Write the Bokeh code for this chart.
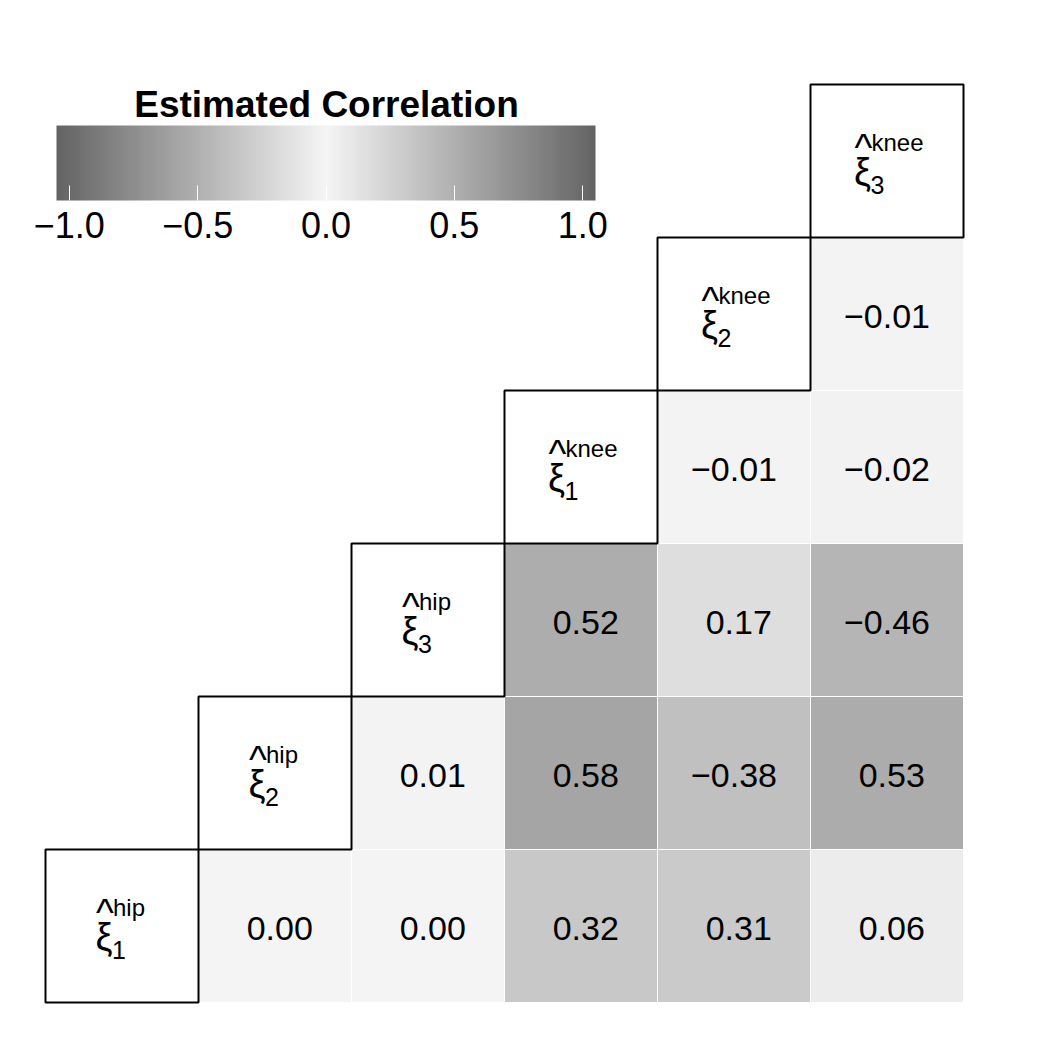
import numpy as np
from bokeh.plotting import figure
from bokeh.models import (ColumnDataSource, LinearColorMapper, ColorBar, FixedTicker,
                          Label, Range1d, CustomJSTickFormatter)
from bokeh.transform import transform
from bokeh.core.properties import value
from bokeh.embed import file_html
from bokeh.resources import INLINE

# ---------------- data ----------------
variables = ["hip", "hip", "hip", "knee", "knee", "knee"]
indices = ["1", "2", "3", "1", "2", "3"]
row_idx = [0, 0, 0, 0, 0, 1, 1, 1, 1, 2, 2, 2, 3, 3, 4]
col_idx = [1, 2, 3, 4, 5, 2, 3, 4, 5, 3, 4, 5, 4, 5, 5]
corr = [0.00, 0.00, 0.32, 0.31, 0.06,
        0.01, 0.58, -0.38, 0.53,
        0.52, 0.17, -0.46,
        -0.01, -0.02,
        -0.01]
legend_ticks = [-1.0, -0.5, 0.0, 0.5, 1.0]
legend_title = "Estimated Correlation"
legend_low, legend_high = -1.05, 1.05

FONT = "Liberation Sans"

# ---------------- colours ----------------
N = 256
vals = np.linspace(legend_low, legend_high, N)
grey = np.clip(np.round(245 - 138 * np.abs(vals)), 0, 255).astype(int)
palette = ["#%02x%02x%02x" % (g, g, g) for g in grey]
mapper = LinearColorMapper(palette=palette, low=legend_low, high=legend_high)

# ---------------- figure ----------------
CELL = 153.0
W = H = 1032
x0 = -45 / CELL
y0 = -30 / CELL
p = figure(width=W, height=H, x_range=Range1d(x0, x0 + W / CELL),
           y_range=Range1d(y0, y0 + H / CELL), output_backend="svg",
           toolbar_location=None, min_border=0,
           x_axis_location=None, y_axis_location=None)
p.xgrid.visible = False
p.ygrid.visible = False
p.outline_line_color = None
p.background_fill_color = "white"

# heatmap cells
def fmt(v):
    s = "%.2f" % abs(v)
    return ("\u2212" + s) if v < 0 else ("\u00a0" + s)

cell_src = ColumnDataSource(dict(
    cx=[c + 0.5 for c in col_idx],
    cy=[r + 0.5 for r in row_idx],
    r=corr,
    label=[fmt(v) for v in corr],
))
p.rect(x="cx", y="cy", width=1, height=1, source=cell_src,
       fill_color=transform("r", mapper), line_color="white", line_width=1)
p.text(x="cx", y="cy", text="label", source=cell_src, text_align="center",
       text_baseline="middle", y_offset=2, text_font=value(FONT),
       text_font_size="34px", text_color="black")

# diagonal boxes
n = len(variables)
diag = [i + 0.5 for i in range(n)]
p.rect(x=diag, y=diag, width=1, height=1, fill_color="white",
       line_color="black", line_width=2)

# diagonal labels: hat xi with superscript variable and subscript index
xi_dx = [-(15 + 13 * len(v)) / 2 + 9 for v in variables]
lab_src = ColumnDataSource(dict(
    x=diag, y=diag,
    xi=["\u03be"] * n,
    hat=["^"] * n,
    sup=variables,
    sub=indices,
    xi_dx=xi_dx,
    hat_dx=[d + 1 for d in xi_dx],
    sup_dx=[d + 9 for d in xi_dx],
    sub_dx=[d + 8 for d in xi_dx],
))
p.text(x="x", y="y", text="xi", source=lab_src, x_offset="xi_dx", y_offset=11,
       text_align="center", text_baseline="alphabetic",
       text_font=value(FONT), text_font_size="38px", text_color="black")
p.text(x="x", y="y", text="hat", source=lab_src, x_offset="hat_dx", y_offset=-13,
       text_align="center", text_baseline="alphabetic",
       text_font=value(FONT), text_font_size="38px", text_color="black")
p.text(x="x", y="y", text="sup", source=lab_src, x_offset="sup_dx", y_offset=-19,
       text_align="left", text_baseline="alphabetic",
       text_font=value(FONT), text_font_size="24px", text_color="black")
p.text(x="x", y="y", text="sub", source=lab_src, x_offset="sub_dx", y_offset=24,
       text_align="left", text_baseline="alphabetic",
       text_font=value(FONT), text_font_size="25px", text_color="black")

# legend colour bar
cb = ColorBar(color_mapper=mapper, orientation="horizontal", width=539, height=75,
              location=(56, 792), ticker=FixedTicker(ticks=legend_ticks),
              formatter=CustomJSTickFormatter(code="return (tick < 0 ? '\u2212' : '') + Math.abs(tick).toFixed(1);"),
              major_label_text_font=FONT, major_label_text_font_size="36px",
              major_label_text_color="black",
              major_tick_in=15, major_tick_out=0, major_tick_line_color="white",
              major_tick_line_width=1, minor_tick_line_color=None,
              label_standoff=11, padding=0, margin=0,
              background_fill_alpha=0, border_line_color=None, bar_line_color=None)
p.add_layout(cb, "center")

p.add_layout(Label(x=326, y=928, x_units="screen", y_units="screen", text=legend_title,
                   text_align="center", text_baseline="alphabetic",
                   text_font=FONT, text_font_size="37px", text_font_style="bold",
                   text_color="black"))

open("out.html", "w").write(file_html(p, INLINE))
